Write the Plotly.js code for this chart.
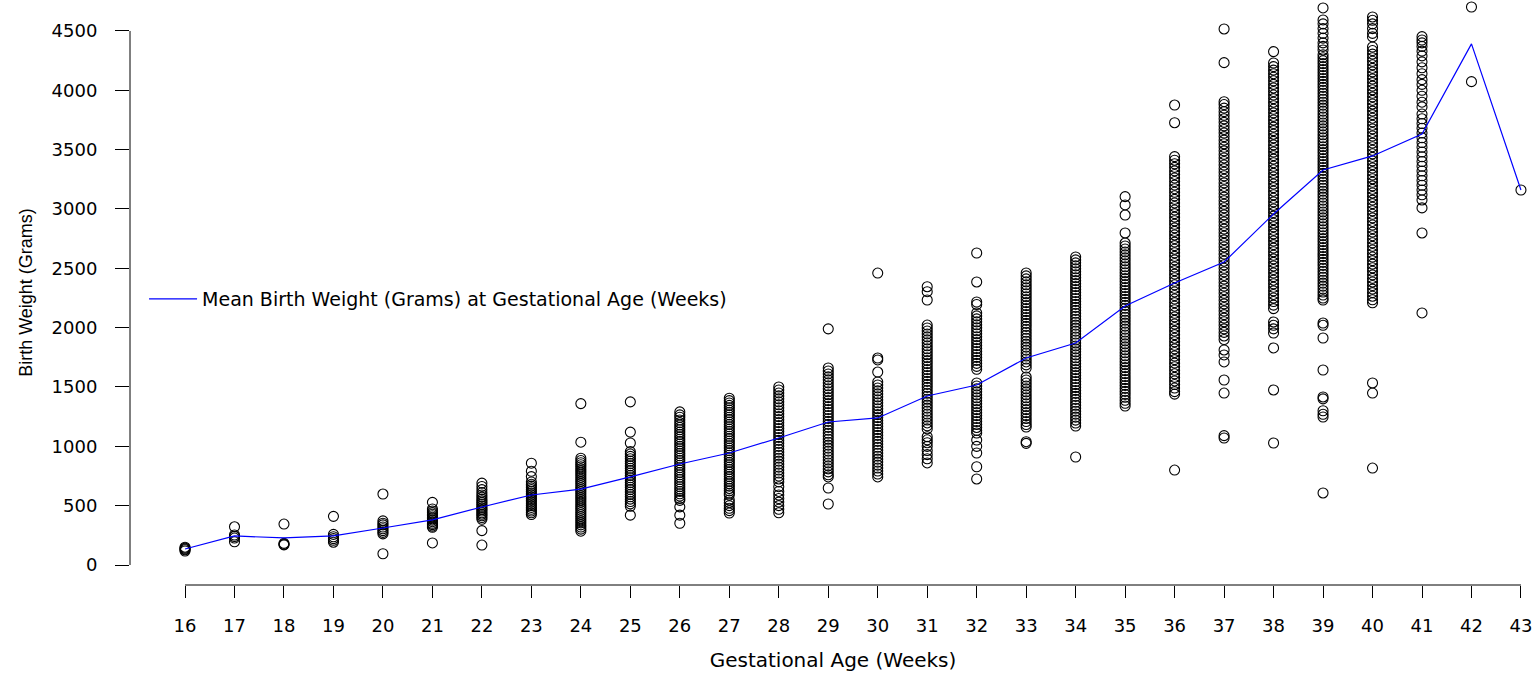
<!DOCTYPE html>
<html>
<head>
<meta charset="utf-8">
<script src="https://cdn.plot.ly/plotly-3.0.1.min.js"></script>
<style>html,body{margin:0;padding:0;background:#fff;overflow:hidden}</style>
</head>
<body>
<div id="chart" style="width:1536px;height:673px"></div>
<script>
// Gestational age categories (weeks)
const weeks = [16,17,18,19,20,21,22,23,24,25,26,27,28,29,30,31,32,33,34,35,36,37,38,39,40,41,42,43];
// Mean birth weight (grams) at each gestational age
const meanBW = [135,245,228,245,312,380,489,590,640,742,851,944,1070,1205,1239,1424,1517,1744,1871,2183,2376,2553,2958,3329,3447,3632,4391,3160];
const yTicks = [0,500,1000,1500,2000,2500,3000,3500,4000,4500];

// Individual birth weights (grams) read per gestational week
const bw16 = [118,128,135,142,150];
const bw17 = [322,253,240,227,196];
const bw18 = [345,182,175,170];
const bw19 = [410,258,238,222,208,192];
const bw20 = [598,372,352,338,320,305,290,275,262,95];
const bw21 = [528,472,455,440,428,415,402,390,378,365,352,340,328,318,186];
const bw22 = [690,662,635,610,590,572,555,540,525,510,495,480,468,455,440,428,415,400,385,290,168];
const bw23 = [858,790,745,700,680,665,650,635,620,605,590,575,560,545,530,515,500,485,470,455,440,425];
const bw24 = [1360,1035,900,880,862,845,828,810,792,775,758,740,722,705,688,670,652,635,618,600,582,565,548,530,512,495,478,460,442,425,408,390,372,355,338,320,302,285];
const bw25 = [1375,1120,1028,955,935,915,895,875,855,835,815,795,775,755,735,715,695,675,655,635,615,595,575,555,535,515,495,420];
const bw26 = [1290,1265,1245,1222,1200,1180,1160,1140,1120,1100,1080,1060,1040,1020,1000,980,960,940,920,900,880,860,840,820,800,780,760,740,720,700,680,660,640,620,600,580,560,545,490,420,352];
const bw27 = [1405,1385,1365,1345,1325,1305,1285,1265,1245,1225,1205,1185,1165,1145,1125,1105,1085,1065,1045,1025,1005,985,965,945,925,905,885,865,845,825,805,785,765,745,725,705,685,665,645,625,605,590,548,525,500,478,458,438];
const bw28 = [1500,1475,1450,1425,1400,1375,1350,1325,1300,1275,1250,1225,1200,1175,1150,1125,1100,1075,1050,1025,1000,975,950,925,900,875,850,825,800,775,750,725,700,660,620,590,560,530,500,470,440];
const bw29 = [1990,1660,1635,1610,1585,1560,1535,1510,1485,1460,1435,1410,1385,1360,1335,1310,1285,1260,1235,1210,1185,1160,1135,1110,1085,1060,1035,1010,985,960,935,910,885,860,835,810,785,760,742,649,514];
const bw30 = [2460,1744,1728,1626,1542,1517,1492,1467,1442,1417,1392,1367,1342,1317,1292,1267,1242,1217,1192,1167,1142,1117,1092,1067,1042,1017,992,967,942,917,892,867,842,817,792,767,742];
const bw31 = [2345,2303,2233,2022,1997,1972,1947,1922,1897,1872,1847,1822,1797,1772,1747,1722,1697,1672,1647,1622,1597,1572,1547,1522,1497,1472,1447,1422,1397,1372,1347,1322,1297,1272,1247,1222,1197,1172,1147,1081,1055,1030,1000,965,930,895,860];
const bw32 = [2629,2385,2216,2195,2124,2099,2074,2049,2024,1999,1974,1949,1924,1899,1874,1849,1824,1799,1774,1749,1724,1699,1674,1649,1534,1509,1484,1459,1434,1409,1384,1359,1334,1309,1284,1259,1234,1209,1184,1159,1134,1112,1053,1000,944,828,725];
const bw33 = [2461,2436,2411,2386,2361,2336,2311,2286,2261,2236,2211,2186,2161,2136,2111,2086,2061,2036,2011,1986,1961,1936,1911,1886,1861,1836,1811,1786,1761,1736,1711,1686,1660,1584,1559,1534,1509,1484,1459,1434,1409,1384,1359,1334,1309,1284,1259,1234,1209,1184,1163,1039,1025];
const bw34 = [2596,2571,2546,2521,2496,2471,2446,2421,2396,2371,2346,2321,2296,2271,2246,2221,2196,2171,2146,2121,2096,2071,2046,2021,1996,1971,1946,1921,1896,1871,1846,1821,1796,1771,1746,1721,1696,1671,1646,1621,1596,1571,1546,1521,1496,1471,1446,1421,1396,1371,1346,1321,1296,1271,1246,1221,1196,1171,910];
const bw35 = [3104,3034,2949,2798,2713,2688,2663,2638,2613,2588,2563,2538,2513,2488,2463,2438,2413,2388,2363,2338,2313,2288,2263,2238,2213,2188,2163,2138,2113,2088,2063,2038,2013,1988,1963,1938,1913,1888,1863,1838,1813,1788,1763,1738,1713,1688,1663,1638,1613,1588,1563,1538,1513,1488,1463,1438,1413,1388,1363,1340];
const bw36 = [3876,3727,3441,3411,3381,3351,3321,3291,3261,3231,3201,3171,3141,3111,3081,3051,3021,2991,2961,2931,2901,2871,2841,2811,2781,2751,2721,2691,2661,2631,2601,2571,2541,2511,2481,2451,2421,2391,2361,2331,2301,2271,2241,2211,2181,2151,2121,2091,2061,2031,2001,1971,1941,1911,1881,1851,1821,1791,1761,1731,1701,1671,1641,1611,1581,1551,1521,1491,1461,1440,800];
const bw37 = [4517,4233,3904,3880,3850,3820,3790,3760,3730,3700,3670,3640,3610,3580,3550,3520,3490,3460,3430,3400,3370,3340,3310,3280,3250,3220,3190,3160,3130,3100,3070,3040,3010,2980,2950,2920,2890,2860,2830,2800,2770,2740,2710,2680,2650,2620,2590,2560,2530,2500,2470,2440,2410,2380,2350,2320,2290,2260,2230,2200,2170,2140,2110,2080,2050,2020,1990,1960,1930,1900,1812,1770,1711,1559,1449,1090,1070];
const bw38 = [4326,4230,4200,4170,4140,4110,4080,4050,4020,3990,3960,3930,3900,3870,3840,3810,3780,3750,3720,3690,3660,3630,3600,3570,3540,3510,3480,3450,3420,3390,3360,3330,3300,3270,3240,3210,3180,3150,3120,3090,3060,3030,3000,2970,2940,2910,2880,2850,2820,2790,2760,2730,2700,2670,2640,2610,2580,2550,2520,2490,2460,2430,2400,2370,2340,2310,2280,2250,2220,2190,2160,2048,2020,1990,1955,1829,1475,1028];
const bw39 = [4694,4593,4560,4520,4480,4440,4400,4370,4340,4300,4275,4250,4225,4200,4175,4150,4125,4100,4075,4050,4025,4000,3975,3950,3925,3900,3875,3850,3825,3800,3775,3750,3725,3700,3675,3650,3625,3600,3575,3550,3525,3500,3475,3450,3425,3400,3375,3350,3325,3300,3275,3250,3225,3200,3175,3150,3125,3100,3075,3050,3025,3000,2975,2950,2925,2900,2875,2850,2825,2800,2775,2750,2725,2700,2675,2650,2625,2600,2575,2550,2525,2500,2475,2450,2425,2400,2375,2350,2325,2300,2275,2250,2233,2039,2020,1913,1643,1416,1400,1300,1270,1247,607];
const bw40 = [4618,4590,4560,4520,4480,4450,4365,4335,4305,4275,4245,4215,4185,4155,4125,4095,4065,4035,4005,3975,3945,3915,3885,3855,3825,3795,3765,3735,3705,3675,3645,3615,3585,3555,3525,3495,3465,3435,3405,3375,3345,3315,3285,3255,3225,3195,3165,3135,3105,3075,3045,3015,2985,2955,2925,2895,2865,2835,2805,2775,2745,2715,2685,2655,2625,2595,2565,2535,2505,2475,2445,2415,2385,2355,2325,2295,2265,2235,2210,1534,1449,817];
const bw41 = [4452,4424,4400,4370,4330,4290,4240,4190,4140,4090,4050,4000,3950,3900,3860,3800,3760,3720,3680,3640,3600,3560,3520,3480,3440,3400,3360,3320,3280,3240,3200,3160,3120,3076,3009,2798,2124];
const bw42 = [4702,4073];
const bw43 = [3160];

const perWeek = [bw16,bw17,bw18,bw19,bw20,bw21,bw22,bw23,bw24,bw25,bw26,bw27,bw28,bw29,bw30,bw31,bw32,bw33,bw34,bw35,bw36,bw37,bw38,bw39,bw40,bw41,bw42,bw43];
const ptX = [], ptY = [];
perWeek.forEach((arr, i) => arr.forEach(v => { ptX.push(weeks[i]); ptY.push(v); }));

const FONT = 'DejaVu Sans, Liberation Sans, Arial, sans-serif';

const traces = [
  {
    type: 'scatter', mode: 'markers', x: ptX, y: ptY, showlegend: false,
    marker: {symbol: 'circle-open', size: 10, color: '#000000', line: {width: 1.1, color: '#000000'}},
    hoverinfo: 'x+y'
  },
  {
    type: 'scatter', mode: 'lines', x: weeks, y: meanBW,
    name: 'Mean Birth Weight (Grams) at Gestational Age (Weeks)',
    line: {color: '#0000FF', width: 1.2}
  }
];

const layout = {
  width: 1536, height: 673,
  margin: {l: 130, r: 0, t: 0, b: 88, pad: 0},
  paper_bgcolor: '#ffffff', plot_bgcolor: '#ffffff',
  font: {family: FONT, size: 18, color: '#000000'},
  showlegend: true,
  legend: {
    x: 0.01, y: 0.489, xanchor: 'left', yanchor: 'middle',
    bgcolor: 'rgba(0,0,0,0)', borderwidth: 0,
    font: {family: FONT, size: 19, color: '#000000'},
    itemwidth: 48
  },
  xaxis: {
    range: [14.888, 43.304], tickmode: 'array', tickvals: weeks, ticktext: weeks.map(String),
    showgrid: false, zeroline: false, showline: false,
    ticks: 'outside', ticklen: 12, tickwidth: 1, tickcolor: '#000000',
    ticklabelstandoff: 12,
    tickfont: {family: FONT, size: 18, color: '#000000'},
    title: {text: 'Gestational Age (Weeks)', standoff: 18, font: {family: FONT, size: 20, color: '#000000'}}
  },
  yaxis: {
    range: [-168.5, 4761], tickmode: 'array', tickvals: yTicks, ticktext: yTicks.map(String),
    showgrid: false, zeroline: false, showline: false,
    ticks: 'outside', ticklen: 14, tickwidth: 1, tickcolor: '#000000',
    ticklabelstandoff: 14,
    tickfont: {family: FONT, size: 18, color: '#000000'},
    title: {text: 'Birth Weight (Grams)', standoff: 14, font: {family: 'Liberation Sans, Arial, sans-serif', size: 18, color: '#000000'}}
  },
  shapes: [
    {type: 'line', xref: 'x', yref: 'paper', x0: 16, x1: 43, y0: 0, y1: 0, line: {color: '#000000', width: 1}},
    {type: 'line', xref: 'paper', yref: 'y', x0: 0, x1: 0, y0: 0, y1: 4500, line: {color: '#000000', width: 1}}
  ]
};

Plotly.newPlot('chart', traces, layout, {displayModeBar: false, staticPlot: true});
</script>
</body>
</html>
